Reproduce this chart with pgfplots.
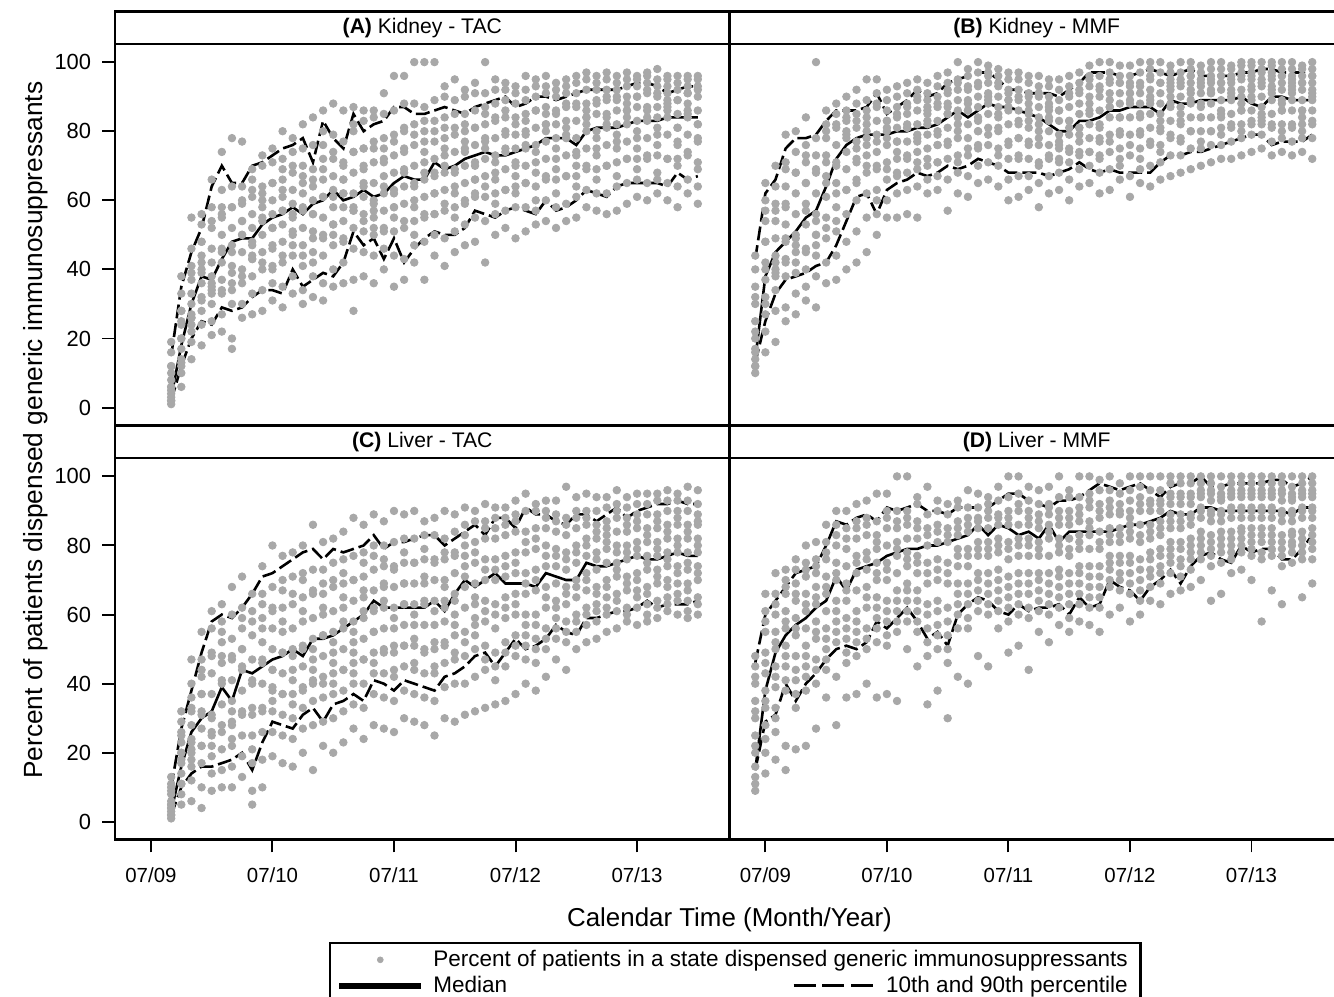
\documentclass[border=0pt]{standalone}
\usepackage{fontspec}
\setmainfont{Liberation Sans}
\usepackage{pgfplots}
\usepackage{pgfplotstable}
\pgfplotsset{compat=1.18}

\definecolor{dotgray}{RGB}{168,168,168}

% columns: month (0 = 07/09), median, 10th, 90th percentile, then state values a..o
\pgfplotstableread{
m med lo hi a b c d e f g h i j k l n o
2 3 2 15 2 2 3 4 6 8 10 12 16 19 5 1 12 6
3 18 12 35 6 10 12 14 17 20 24 28 33 38 13 20 25 28
4 30 20 45 14 19 22 26 30 33 37 41 46 55 26 27 39 24
5 38 25 52 18 24 28 32 36 40 44 48 53 56 31 39 42 48
6 37 24 64 21 25 30 34 38 42 46 52 58 66 33 35 54 36
7 43 29 70 22 27 33 37 42 46 50 56 63 74 34 45 55 58
8 48 28 65 17 20 30 36 41 47 52 58 64 78 39 45 58 34
9 49 29 65 26 30 36 40 45 50 54 59 64 77 38 50 54 60
10 49 32 70 27 33 38 43 48 52 56 61 66 69 43 47 63 44
11 53 34 71 28 34 40 45 50 54 58 62 70 73 42 55 60 64
12 55 34 73 31 36 41 47 52 56 60 65 71 75 46 52 65 40
13 56 33 75 29 35 42 48 53 57 61 66 72 80 44 57 63 69
14 58 40 76 33 38 44 50 55 59 63 68 74 78 51 56 70 47
15 56 35 78 30 34 41 47 52 57 62 67 75 82 44 58 65 70
16 59 37 71 32 38 45 51 56 60 64 69 76 84 49 56 66 42
17 60 39 83 31 36 44 50 55 61 66 72 80 86 49 61 69 76
18 63 38 78 35 40 47 53 58 63 67 72 79 88 53 61 74 50
19 60 42 75 36 42 48 54 58 62 66 71 77 86 49 62 66 70
20 61 51 85 28 37 46 52 57 62 68 74 82 87 57 58 74 80
21 63 47 80 38 45 51 56 61 65 70 75 83 86 54 64 69 75
22 61 49 82 36 44 50 55 60 65 71 77 84 86 57 59 75 52
23 62 43 83 40 46 52 57 62 67 72 78 85 91 51 64 71 75
24 65 49 87 35 44 51 58 63 68 73 79 86 96 58 62 77 55
25 67 42 87 37 43 52 59 64 69 75 81 88 96 54 68 74 80
26 66 46 85 42 47 54 60 65 70 76 82 88 100 58 64 79 50
27 66 49 85 37 48 55 61 66 71 77 83 87 100 56 68 74 80
28 71 51 86 44 50 56 62 67 72 77 83 89 100 62 68 80 56
29 69 50 87 41 49 57 63 68 73 78 84 90 93 59 70 75 81
30 70 50 86 45 51 58 64 69 74 79 85 89 95 62 68 81 55
31 72 52 85 47 53 59 65 70 75 80 85 90 92 60 74 77 82
32 73 57 87 48 55 61 66 71 76 81 86 91 94 66 70 81 62
33 74 56 88 42 54 61 67 72 77 82 87 91 100 64 75 78 85
34 73 55 89 50 56 62 68 73 78 83 88 92 95 66 71 84 59
35 73 57 90 52 57 63 69 74 79 84 89 92 94 63 75 80 86
36 74 58 87 49 58 64 70 75 79 84 88 91 93 67 71 82 62
37 75 57 88 51 58 65 70 75 80 85 89 92 96 65 76 79 83
38 76 56 90 53 57 64 71 76 81 86 90 93 95 68 74 86 60
39 78 60 90 54 60 66 72 77 82 87 91 93 96 67 80 82 85
40 78 57 89 52 58 66 72 78 82 86 90 92 94 69 75 85 62
41 78 58 90 54 59 67 73 78 83 87 91 93 95 67 79 81 88
42 76 60 91 55 61 67 73 78 83 88 91 94 96 70 74 87 64
43 80 63 92 58 63 69 75 80 84 88 92 95 97 70 82 84 86
44 81 62 92 57 62 69 75 80 85 89 92 94 96 73 78 88 66
45 81 61 92 56 62 70 76 81 85 89 92 95 97 70 82 84 90
46 81 64 92 57 64 71 77 82 86 89 92 94 96 75 79 90 67
47 82 65 93 59 65 72 77 82 86 90 93 95 97 72 84 86 88
48 83 65 94 61 66 72 78 83 87 90 93 95 96 75 80 90 69
49 83 65 94 60 65 72 78 83 87 91 94 96 97 73 84 86 92
50 83 65 93 62 66 73 79 84 87 90 93 95 98 76 81 91 68
51 84 64 91 60 65 72 79 84 88 91 93 95 96 72 86 87 89
52 84 68 92 58 64 70 76 81 85 89 92 94 96 77 81 89 72
53 84 66 93 62 66 73 79 84 88 91 93 95 96 74 85 86 91
54 84 67 93 59 64 71 77 82 86 90 93 95 96 78 82 92 69
}\kidneyTAC

\pgfplotstableread{
m med lo hi a b c d e f g h i j k l n o
-1 14 13 43 10 12 14 17 20 25 30 35 40 44 16 12 32 22
0 38 25 62 16 22 27 32 37 42 48 54 60 65 30 40 48 57
1 45 33 66 19 28 34 39 44 49 54 59 64 70 40 42 57 38
2 48 37 75 25 29 38 43 48 53 58 64 71 79 42 49 59 69
3 51 38 78 27 33 39 45 50 56 62 68 74 80 47 49 68 42
4 55 39 78 31 35 40 46 53 59 65 71 76 84 45 57 65 73
5 57 41 79 29 38 44 50 56 62 68 73 78 100 50 54 69 47
6 64 42 83 36 42 49 55 61 67 73 78 82 86 52 65 71 80
7 72 47 86 37 44 51 58 65 71 76 81 85 88 62 70 82 54
8 76 54 86 40 48 56 63 69 74 79 83 86 90 63 78 80 84
9 78 61 86 42 51 60 66 72 77 81 85 88 92 71 75 83 65
10 79 62 87 45 55 62 68 73 78 82 86 89 95 70 80 84 76
11 79 56 91 50 56 63 69 74 79 83 87 91 95 70 77 88 60
12 79 63 85 55 60 66 71 76 80 83 86 89 92 69 81 83 78
13 80 65 87 55 62 67 72 77 81 84 87 90 93 74 77 85 68
14 80 66 89 56 63 68 73 77 81 85 88 91 94 72 81 82 87
15 81 68 92 55 64 69 74 78 82 86 89 92 95 77 79 90 71
16 81 67 90 62 66 70 75 79 82 86 89 91 94 72 83 85 87
17 82 68 91 63 67 71 76 80 83 87 90 93 96 76 79 88 71
18 84 70 94 57 66 72 77 81 85 88 91 94 97 76 85 87 92
19 86 69 95 62 68 73 78 82 86 89 92 95 100 80 84 94 71
20 84 70 96 61 67 73 78 82 86 89 93 96 98 75 86 88 92
21 86 72 97 65 70 75 80 84 87 90 94 97 100 80 83 93 76
22 88 71 97 66 71 76 81 85 88 91 94 97 99 79 89 90 96
23 87 70 95 64 70 75 80 84 87 90 93 96 98 81 85 94 73
24 87 68 92 60 66 72 77 82 86 89 92 95 97 76 89 87 91
25 86 68 92 61 67 73 78 82 86 89 92 95 97 78 83 90 72
26 85 68 91 63 67 72 77 81 85 88 91 94 96 76 86 83 90
27 84 68 91 58 65 71 76 80 84 87 90 93 96 78 82 91 70
28 82 67 91 62 67 72 76 80 83 87 90 93 95 73 84 86 88
29 80 68 90 63 68 72 76 79 83 86 89 92 95 75 77 86 71
30 80 69 92 60 66 71 75 79 83 87 90 93 96 74 81 83 91
31 83 71 94 64 69 73 77 81 85 88 91 94 97 79 81 92 74
32 83 69 97 65 70 74 78 82 86 90 93 96 99 74 85 88 95
33 84 68 97 62 68 73 78 82 86 90 93 96 100 77 81 92 72
34 86 69 97 63 69 74 79 84 87 91 94 97 100 77 87 89 95
35 86 68 96 66 70 75 80 84 88 91 94 96 99 79 84 94 72
36 87 68 96 61 67 73 79 84 88 91 94 96 99 76 89 91 93
37 87 68 97 65 69 75 80 85 88 91 94 97 100 79 84 93 72
38 87 68 98 64 70 76 81 85 89 92 95 98 100 77 88 90 96
39 85 71 97 66 71 76 81 85 88 91 94 97 100 80 83 94 74
40 89 73 96 67 73 78 83 87 90 93 95 97 99 79 88 92 94
41 88 73 97 68 73 78 83 87 90 93 95 97 100 82 85 94 77
42 88 74 98 69 75 80 84 88 91 94 96 98 100 80 89 92 96
43 89 74 96 70 75 80 84 88 91 93 95 97 99 84 87 94 77
44 89 75 96 71 76 80 84 88 91 94 96 98 100 80 91 92 95
45 89 76 96 72 76 81 85 89 92 94 96 98 100 84 86 94 79
46 89 77 96 72 77 81 85 89 92 94 96 98 99 82 90 91 95
47 90 78 97 73 78 82 86 90 92 95 97 99 100 86 88 96 80
48 88 79 97 74 79 83 86 89 92 95 97 99 100 82 90 93 96
49 87 79 98 75 79 83 87 90 93 95 97 98 100 84 85 94 82
50 90 76 98 73 77 81 85 89 92 95 97 99 100 82 91 93 96
51 90 77 97 74 78 82 86 89 92 94 96 98 100 86 88 96 80
52 89 77 97 73 77 82 86 89 92 94 96 98 100 81 91 93 95
53 89 77 97 74 78 82 86 89 92 94 96 98 99 84 86 94 80
54 89 79 98 72 78 82 86 89 92 94 96 98 100 83 90 91 96
}\kidneyMMF

\pgfplotstableread{
m med lo hi a b c d e f g h i j k l n o
2 3 2 10 1 2 3 4 5 6 8 9 11 13 5 2 10 4
3 16 10 27 5 8 11 14 17 20 23 26 29 32 11 18 20 25
4 26 14 38 6 12 16 20 24 28 32 36 40 47 21 23 33 18
5 30 16 49 4 10 17 22 27 32 37 42 47 55 22 31 37 44
6 32 16 58 9 14 19 25 31 37 43 49 56 61 26 30 48 22
7 39 17 60 10 15 21 28 34 40 46 52 58 63 26 41 48 55
8 35 18 59 10 16 22 29 35 41 47 53 60 68 28 32 48 24
9 44 20 62 13 19 25 32 38 44 50 56 62 71 31 45 50 59
10 43 15 66 5 9 17 25 33 40 47 54 61 66 31 41 58 21
11 45 23 71 10 18 26 33 40 46 52 59 66 74 32 47 56 63
12 47 29 72 19 26 32 38 44 50 56 62 68 80 39 44 61 35
13 48 28 74 17 25 31 37 43 49 55 62 70 77 37 49 58 67
14 50 27 76 16 24 30 37 44 50 56 63 71 78 41 48 66 34
15 48 31 78 20 27 33 39 45 51 58 65 72 80 38 50 61 70
16 53 33 79 15 28 35 41 47 53 59 66 73 86 44 50 67 40
17 53 29 76 22 29 36 42 48 54 60 66 73 81 40 54 62 69
18 54 34 79 20 30 37 43 49 55 61 68 75 82 46 52 70 40
19 56 35 78 23 32 38 44 50 56 62 69 76 84 44 58 65 72
20 58 37 79 27 34 40 46 52 58 64 70 77 88 49 55 70 43
21 60 35 80 24 33 40 47 53 59 65 71 78 86 47 61 67 75
22 64 41 83 28 37 43 49 55 61 67 73 80 89 55 62 77 46
23 62 40 79 27 36 43 50 56 62 68 74 80 87 49 64 69 76
24 62 38 81 26 35 42 49 56 62 68 74 81 90 51 59 73 44
25 62 41 81 30 38 45 51 57 63 69 75 82 89 51 63 69 78
26 62 40 82 29 37 44 51 57 63 69 75 82 90 53 60 75 46
27 62 39 83 28 36 43 50 57 63 69 76 83 87 49 64 71 79
28 64 38 83 25 35 43 50 57 64 70 76 83 88 52 61 75 45
29 61 42 80 30 39 46 52 58 64 70 76 82 90 51 62 68 78
30 66 43 82 29 40 47 54 60 66 72 78 84 89 57 64 77 49
31 70 45 84 31 40 48 55 62 68 74 80 86 91 52 71 77 83
32 68 48 86 32 42 50 57 63 69 75 81 87 90 59 65 78 54
33 70 49 83 33 44 51 58 64 70 76 82 87 92 47 61 73 85
34 72 45 88 34 41 49 56 63 70 76 82 88 91 45 60 73 85
35 69 49 88 35 45 52 59 65 71 77 83 88 91 49 62 74 86
36 69 53 85 37 48 54 60 66 72 78 84 89 93 51 63 75 87
37 69 50 91 40 47 54 60 66 72 78 84 90 95 51 57 69 81
38 68 51 89 38 46 53 60 67 73 79 85 90 92 50 57 70 82
39 72 53 89 42 50 56 62 68 74 80 85 90 93 53 65 77 88
40 71 57 87 47 53 59 64 69 74 79 84 89 93 56 62 77 87
41 70 55 86 44 52 58 63 68 73 78 83 88 97 55 66 76 86
42 70 54 89 50 55 60 65 70 75 80 85 90 94 58 68 78 88
43 75 59 89 52 57 62 67 72 77 82 86 90 95 60 70 80 88
44 74 59 87 53 58 63 68 73 78 82 86 90 94 61 66 76 84
45 74 60 89 55 60 65 70 75 79 83 87 91 94 62 68 81 85
46 75 61 91 56 61 66 71 75 80 84 88 92 96 64 73 78 90
47 76 61 88 58 62 67 71 76 80 84 88 91 94 60 69 78 86
48 77 62 90 57 62 67 72 77 81 85 89 92 95 65 70 79 87
49 76 64 91 58 63 68 73 77 81 85 89 92 95 60 66 75 83
50 76 62 92 59 64 69 73 77 81 85 89 93 95 62 71 79 87
51 77 63 92 61 65 70 74 78 82 86 90 93 96 63 68 76 84
52 78 63 93 60 64 69 74 78 82 86 90 93 95 66 72 80 88
53 77 63 92 59 64 69 73 78 82 86 90 93 97 61 67 75 84
54 77 64 92 60 65 70 74 78 82 86 89 92 96 63 72 80 87
}\liverTAC

\pgfplotstableread{
m med lo hi a b c d e f g h i j k l n o
-1 15 15 46 9 13 16 20 25 30 35 40 45 48 11 22 32 42
0 38 29 60 14 20 28 33 38 43 49 55 61 66 24 35 46 58
1 49 31 64 18 26 33 39 45 50 55 60 66 72 30 42 52 63
2 54 40 68 15 22 38 45 51 56 61 66 70 73 41 48 58 68
3 57 35 72 21 33 41 48 54 59 64 69 73 76 37 44 56 66
4 59 40 73 22 38 45 51 56 61 66 71 75 80 42 48 63 73
5 62 43 74 27 40 47 53 58 63 68 72 76 81 44 55 65 74
6 64 47 80 36 44 50 56 61 66 71 76 81 86 47 53 68 78
7 71 50 87 28 42 52 58 64 70 75 80 86 90 55 61 72 83
8 67 51 86 36 46 53 59 64 69 74 79 85 90 49 56 67 82
9 73 50 88 37 48 55 61 67 72 77 82 87 92 52 58 75 85
10 74 52 89 40 50 56 62 68 73 78 83 88 93 53 65 76 86
11 75 58 87 36 52 59 65 70 75 79 83 87 95 56 62 72 81
12 77 56 91 37 51 58 64 70 75 80 85 90 95 54 61 73 88
13 78 59 90 35 55 61 67 72 77 81 85 90 100 58 64 79 87
14 79 62 91 50 58 64 69 74 78 82 86 90 100 61 67 76 88
15 79 58 92 45 55 61 67 72 77 82 87 92 94 58 64 75 85
16 80 53 90 34 48 56 63 69 75 80 85 89 97 52 60 72 83
17 80 55 90 38 50 57 64 70 76 81 86 90 93 54 61 73 84
18 81 51 89 30 46 54 62 69 75 81 85 89 92 50 58 72 83
19 82 60 91 42 56 63 69 74 79 83 87 91 93 60 66 77 85
20 83 63 91 40 56 63 69 74 79 84 88 91 96 59 66 77 86
21 86 65 91 48 61 67 72 77 81 85 88 91 95 64 70 79 87
22 83 64 91 45 60 66 72 77 81 85 88 92 94 63 69 79 90
23 86 61 93 56 61 67 73 78 82 86 89 93 97 64 70 80 88
24 85 60 95 49 58 65 71 76 81 86 90 94 100 62 68 79 88
25 83 63 95 51 60 66 72 77 82 86 90 95 100 63 69 80 92
26 84 61 93 44 59 66 72 77 82 86 90 93 97 62 69 80 88
27 82 62 92 55 61 67 72 77 81 85 89 92 96 64 70 79 87
28 86 62 91 52 60 66 72 77 82 86 89 92 97 63 69 84 91
29 81 63 93 57 62 68 73 78 82 86 90 94 100 65 71 80 88
30 84 60 93 55 59 66 72 77 82 86 90 94 96 63 69 79 88
31 84 65 94 58 63 69 74 79 83 87 91 94 100 66 72 81 89
32 84 62 96 57 62 68 74 79 83 87 91 95 100 65 71 85 93
33 84 63 98 55 62 68 74 79 84 88 92 96 99 65 71 81 90
34 84 70 97 60 68 73 77 81 85 89 93 96 100 70 75 83 91
35 85 68 96 62 67 72 77 81 85 89 92 95 98 70 75 83 90
36 86 67 97 58 66 72 77 82 86 90 93 96 100 69 75 84 88
37 86 64 98 60 64 70 76 81 86 90 94 97 100 67 73 83 92
38 87 68 96 64 68 73 78 82 86 90 93 96 100 71 76 84 92
39 88 70 94 63 69 74 79 83 87 90 93 96 100 72 77 85 92
40 90 73 97 66 72 77 81 85 89 92 95 98 100 75 79 87 94
41 89 69 98 67 71 76 81 85 89 92 95 98 100 74 79 87 94
42 89 74 98 68 73 78 82 86 89 92 95 98 100 76 80 88 94
43 91 77 100 70 76 80 84 88 91 94 96 98 100 78 82 90 95
44 91 78 97 64 74 79 83 87 90 93 96 98 100 77 81 89 95
45 90 76 97 66 75 80 84 87 90 93 95 97 100 78 82 89 94
46 90 75 98 72 76 80 84 88 91 94 96 98 100 78 82 90 95
47 90 80 98 73 78 82 85 88 91 94 96 98 100 80 84 90 95
48 90 78 98 70 77 81 85 88 91 94 96 98 100 79 83 90 95
49 90 79 98 58 76 81 85 88 91 94 96 98 100 78 83 90 95
50 90 79 99 67 77 81 85 88 91 94 96 98 100 79 83 90 95
51 90 76 99 63 74 79 83 87 90 93 96 98 100 77 81 89 95
52 89 76 97 75 78 81 84 87 90 93 95 97 100 80 83 89 94
53 91 79 98 65 76 80 84 88 91 94 96 98 100 78 82 90 95
54 91 83 100 69 76 81 85 88 91 94 96 98 100 79 83 90 95
}\liverMMF

\pgfplotsset{
  every axis title shift=0pt,
  panel/.style={
    scale only axis, width=308.5pt, height=191.5pt,
    xmin=-3.54, xmax=57.13, ymin=-5.1, ymax=105.3,
    axis line style={line width=1.3pt},
    tick style={black, line width=1pt},
    tick align=outside, major tick length=6.5pt,
    xtick={0,12,24,36,48},
    xticklabels={07/09,07/10,07/11,07/12,07/13},
    ytick={0,20,40,60,80,100},
    xtick pos=left, ytick pos=left,
    xticklabel style={font=\fontsize{10.25}{12}\selectfont, yshift=-4pt},
    yticklabel style={font=\fontsize{11}{13}\selectfont, xshift=-2pt},
    /pgf/number format/assume math mode=true,
    title style={at={(0.5,1)}, anchor=south, draw=black, line width=1.3pt,
      minimum width=308.5pt, minimum height=16.25pt, inner sep=0pt, outer sep=0pt,
      font=\fontsize{10.6}{12}\selectfont},
  },
  dots/.style={only marks, mark=*, mark size=1.9pt, color=dotgray, forget plot},
  medline/.style={black, line width=1.3pt, forget plot},
  pctline/.style={black, line width=1.3pt, dash pattern=on 7pt off 2.5pt, forget plot},
  dotlegend/.style={legend image code/.code={%
      \draw[mark repeat=2, mark phase=2, ##1]
        plot coordinates {(0pt,0pt) (20pt,0pt) (40pt,0pt)};}},
  linelegend/.style={legend image code/.code={%
      \fill[black] (0pt,-0.65pt) rectangle (40pt,0.65pt);}},
}

\newcommand\panelplots[1]{%
  \addplot[dots] table[x=m, y=a]{#1};
  \addplot[dots] table[x=m, y=b]{#1};
  \addplot[dots] table[x=m, y=c]{#1};
  \addplot[dots] table[x=m, y=d]{#1};
  \addplot[dots] table[x=m, y=e]{#1};
  \addplot[dots] table[x=m, y=f]{#1};
  \addplot[dots] table[x=m, y=g]{#1};
  \addplot[dots] table[x=m, y=h]{#1};
  \addplot[dots] table[x=m, y=i]{#1};
  \addplot[dots] table[x=m, y=j]{#1};
  \addplot[dots] table[x=m, y=k]{#1};
  \addplot[dots] table[x=m, y=l]{#1};
  \addplot[dots] table[x=m, y=n]{#1};
  \addplot[dots] table[x=m, y=o]{#1};
  \addplot[medline] table[x=m, y=med]{#1};
  \addplot[pctline] table[x=m, y=lo]{#1};
  \addplot[pctline] table[x=m, y=hi]{#1};
}
\newcommand\dashrule{\rule[3pt]{11pt}{1.3pt}\hspace{3.5pt}\rule[3pt]{11pt}{1.3pt}\hspace{3.5pt}\rule[3pt]{11pt}{1.3pt}}
\newlength\legw

\begin{document}
\settowidth\legw{\fontsize{11.3}{13}\selectfont Percent of patients in a state dispensed generic immunosuppressants}
\begin{tikzpicture}
\useasboundingbox (0,0) rectangle (667pt,500.5pt);

\begin{axis}[panel, at={(55pt,287pt)}, anchor=south west,
  xtick=\empty, title={\textbf{(A)} Kidney - TAC}]
  \panelplots{\kidneyTAC}
\end{axis}

\begin{axis}[panel, at={(363.5pt,287pt)}, anchor=south west,
  xtick=\empty, ytick=\empty, title={\textbf{(B)} Kidney - MMF}]
  \panelplots{\kidneyMMF}
\end{axis}

\begin{axis}[panel, at={(55pt,79pt)}, anchor=south west,
  title={\textbf{(C)} Liver - TAC},
  legend style={at={(0.348,-0.2685)}, anchor=north west, draw=black, line width=1.3pt,
    font=\fontsize{11.3}{13}\selectfont, inner xsep=4.5pt, inner ysep=1.5pt,
    row sep=-0.5pt, /tikz/every odd column/.append style={column sep=4pt}},
  legend cell align=left]
  \panelplots{\liverTAC}
  \addlegendimage{dotlegend, only marks, mark=*, mark size=1.5pt, dotgray, line width=0.3pt}
  \addlegendentry{Percent of patients in a state dispensed generic immunosuppressants}
  \addlegendimage{linelegend}
  \addlegendentry{\makebox[\legw][l]{Median\hfill\dashrule\hspace{6.5pt}10th and 90th percentile}}
\end{axis}

\begin{axis}[panel, at={(363.5pt,79pt)}, anchor=south west,
  ytick=\empty, title={\textbf{(D)} Liver - MMF}]
  \panelplots{\liverMMF}
\end{axis}

\node[rotate=90, font=\fontsize{13.2}{15}\selectfont] at (15pt,284.5pt)
  {Percent of patients dispensed generic immunosuppressants};
\node[font=\fontsize{13}{15}\selectfont] at (363.5pt,38.5pt)
  {Calendar Time (Month/Year)};
\end{tikzpicture}
\end{document}
